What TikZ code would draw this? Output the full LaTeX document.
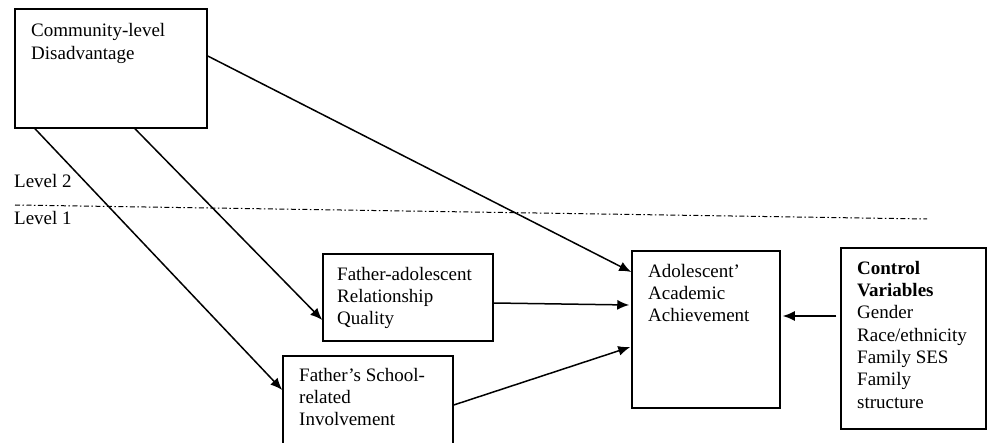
\documentclass[tikz,border=0pt]{standalone}
\usepackage{fontspec}
\setmainfont{Liberation Serif}
\usetikzlibrary{arrows.meta}
\tikzset{
  frame/.style={draw,line width=1.5pt,inner sep=0pt},
  label text/.style={inner sep=0pt,align=left,anchor=north west},
  path arrow/.style={line width=1.5pt,-{Latex[length=12pt,width=10pt]}},
  every node/.style={font=\fontsize{19}{22.3}\selectfont}
}
\begin{document}
\begin{tikzpicture}[x=1pt,y=1pt]
  \useasboundingbox (0,0) rectangle (987,442);
  % boxes
  \node[frame,minimum width=192,minimum height=119] at (111,373.5) (comm) {};
  \node[frame,minimum width=170,minimum height=87] at (408,144.5) (rel) {};
  \node[frame,minimum width=170,minimum height=90] at (368,41) (school) {};
  \node[frame,minimum width=148,minimum height=157] at (706,112.5) (achieve) {};
  \node[frame,minimum width=145,minimum height=181] at (913.5,103.5) (ctrl) {};
  % texts
  \node[label text] at (31,418.5) (commtxt) {Community-level\\Disadvantage};
  \node[label text] at (337,175) (reltxt) {Father-adolescent\\Relationship\\Quality};
  \node[label text] at (299,74) (schooltxt) {Father’s School-\\related\\Involvement};
  \node[label text] at (648,178) (achievetxt) {Adolescent’\\Academic\\Achievement};
  \node[label text] at (857,181) (ctrltxt) {\textbf{Control}\\\textbf{Variables}\\Gender\\Race/ethnicity\\Family SES\\Family\\structure};
  % levels
  \node[inner sep=0pt,anchor=base west] at (14,254) (lvltwo) {Level 2};
  \node[inner sep=0pt,anchor=base west] at (14,217) (lvlone) {Level 1};
  \coordinate (splitL) at (15,237);
  \coordinate (splitR) at (927,223);
  \draw[line width=1pt,dash pattern=on 5pt off 2.5pt on 1.5pt off 2.5pt] (splitL) -- (splitR);
  % paths
  \draw[path arrow] ([yshift=12.5]comm.east) -- ([yshift=57.5]achieve.west);
  \draw[path arrow] ([xshift=24]comm.south) -- ([yshift=-22.5]rel.west);
  \draw[path arrow] ([xshift=-76]comm.south) -- ([yshift=11]school.west);
  \draw[path arrow] ([yshift=-5.5]rel.east) -- ([xshift=-2,yshift=24.5]achieve.west);
  \draw[path arrow] ([yshift=-4]school.east) -- ([xshift=-1,yshift=-17.5]achieve.west);
  \draw[path arrow,shorten <=4pt,shorten >=2pt] ([yshift=22.5]ctrl.west) -- ([yshift=13.5]achieve.east);
\end{tikzpicture}
\end{document}
